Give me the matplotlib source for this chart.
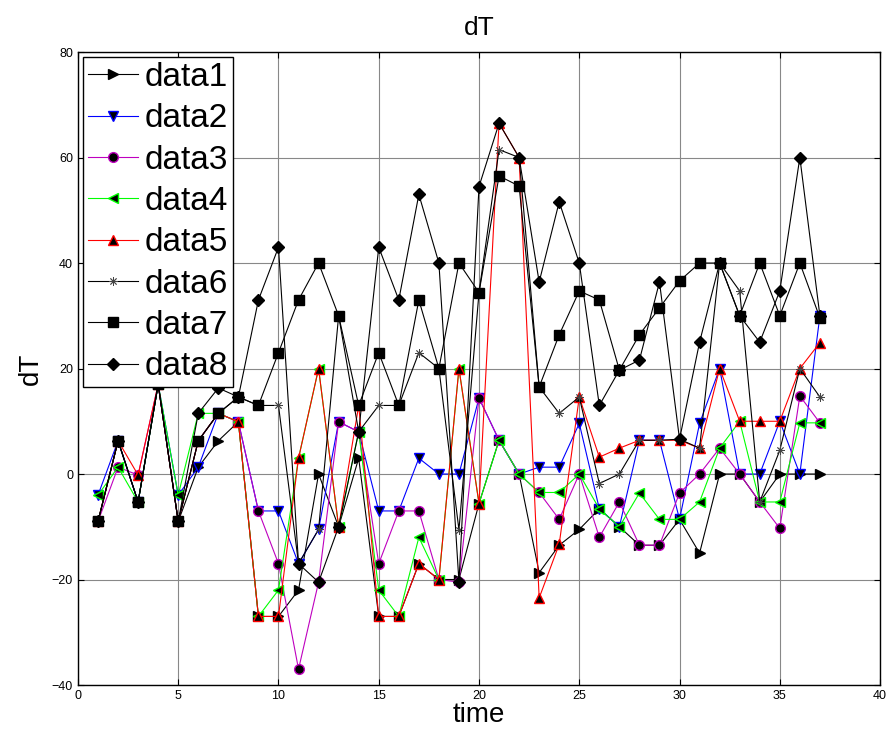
import numpy as np
import matplotlib
matplotlib.use("Agg")
import matplotlib.pyplot as plt

plt.rcParams['font.family'] = ['Liberation Sans', 'DejaVu Sans']

time = np.arange(1, 38)

data1 = [-9, 6.3, -5.3, 17, -9, 1.3, 6.3, 9.9, -27, -27, -22, 0, -10, 3, -27, -27, -17, -20, -20,
         -5.6, 6.4, 0, -18.7, -13.5, -10.5, -6.6, -10, -13.5, -13.5, -8.6, -15, 0, 0, -5.3, 0, 0, 0]
data2 = [-4, 6.3, -5.3, 17, -4, 1.3, 11.5, 9.9, -7, -7, -17, -10.5, 9.9, 8, -7, -7, 3, 0, 0,
         14.4, 6.4, 0, 1.3, 1.3, 9.6, -6.6, -10, 6.4, 6.4, -8.6, 9.6, 20, 0, 0, 10, 0, 30]
data3 = [-9, 1.3, -0.2, 17, -9, 6.3, 11.5, 9.9, -7, -17, -37, -20.5, 9.9, 8, -17, -7, -7, -20, -20.5,
         14.4, 6.4, 0, -3.5, -8.6, 0, -12, -5.3, -13.5, -13.5, -3.6, 0, 4.9, 0, -5.3, -10.3, 14.8, 9.7]
data4 = [-4, 1.3, -5.3, 17, -4, 11.5, 11.5, 9.9, -27, -22, 3, 20, -10, 8, -22, -27, -12, -20, 20,
         -5.6, 6.4, 0, -3.5, -3.5, 0, -6.6, -10, -3.6, -8.6, -8.6, -5.3, 4.9, 10, -5.3, -5.3, 9.7, 9.7]
data5 = [-9, 6.3, -0.2, 17, -9, 6.3, 11.5, 9.9, -27, -27, 3, 20, -10, 13, -27, -27, -17, -20, 20,
         -5.6, 66.5, 60, -23.5, -13.3, 14.6, 3.2, 4.9, 6.4, 6.4, 6.4, 4.9, 20, 10, 10, 10, 20, 24.9]
data6 = [-9, 6.3, -5.3, 17, -9, 6.3, 11.5, 14.6, 13, 13, -17, -10.5, 30, 8, 13, 13, 23, 20, -10.6,
         34.4, 61.5, 60, 16.5, 11.5, 14.6, -1.8, 0, 6.4, 6.4, 6.6, 4.9, 40, 34.7, -5.3, 4.5, 20, 14.6]
data7 = [-9, 6.3, -5.3, 17, -9, 6.3, 11.5, 14.6, 13, 23, 33, 40, 30, 13, 23, 13, 33, 20, 40,
         34.4, 56.5, 54.6, 16.5, 26.4, 34.7, 33, 19.7, 26.4, 31.5, 36.6, 40, 40, 30, 40, 30, 40, 29.6]
data8 = [-9, 6.3, -5.3, 17, -9, 11.5, 16.3, 14.6, 33, 43, -17, -20.5, -10, 8, 43, 33, 53, 40, -20.5,
         54.5, 66.5, 60, 36.4, 51.6, 40, 13, 19.7, 21.6, 36.4, 6.6, 25, 40, 30, 25, 34.7, 60, 30]

series = [data1, data2, data3, data4, data5, data6, data7, data8]
labels = ["data1", "data2", "data3", "data4", "data5", "data6", "data7", "data8"]
colors = ["k", "b", "m", "#00ff00", "r", "k", "k", "k"]
markers = [">", "v", "o", "<", "^", (8, 2, 0), "s", "D"]

fig = plt.figure(figsize=(8.93, 7.38), dpi=100)
ax = fig.add_axes([0.0873, 0.0718, 0.8982, 0.8577])

for y, lab, c, m in zip(series, labels, colors, markers):
    if lab == "data6":
        ax.plot(time, y, color=c, marker=m, markersize=6, linewidth=0.8,
                markeredgecolor="#444444", markeredgewidth=0.6, label=lab)
    else:
        ax.plot(time, y, color=c, marker=m, markersize=7 if m != "D" else 6,
                markerfacecolor="k", markeredgecolor=c, markeredgewidth=1.0,
                linewidth=0.8, label=lab)

ax.set_xlim(0, 40)
ax.set_ylim(-40, 80)
ax.set_xticks(np.arange(0, 41, 5))
ax.set_yticks(np.arange(-40, 81, 20))
ax.grid(True, color="#888888", linewidth=0.8, linestyle="-")
ax.set_axisbelow(True)
ax.tick_params(direction="in", top=True, right=True, labelsize=9, length=4)
for sp in ax.spines.values():
    sp.set_linewidth(1.0)

ax.set_title("dT", fontsize=19, pad=12)
ax.set_xlabel("time", fontsize=20, labelpad=0)
ax.set_ylabel("dT", fontsize=20, labelpad=6)

leg = ax.legend(loc="upper left", fontsize=24, handlelength=1.5, handletextpad=0.2,
                labelspacing=0.31, borderpad=0.15, borderaxespad=0.15, fancybox=False,
                framealpha=1, edgecolor="k")
leg.get_frame().set_linewidth(1.0)

fig.savefig("out.png", dpi=100)
